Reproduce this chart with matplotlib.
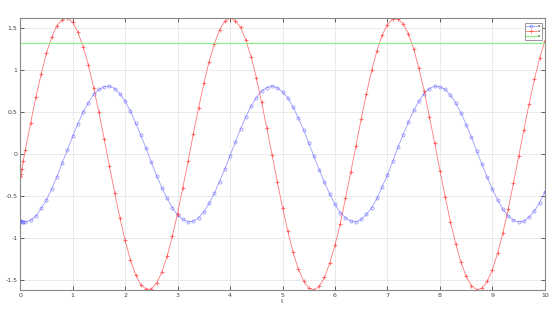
import numpy as np
import matplotlib
matplotlib.use("Agg")
import matplotlib.pyplot as plt

# time samples (extra small steps at the start, then 0.1 steps)
t = [0.0, 0.003, 0.01, 0.03, 0.06] + [round(0.1 * k, 1) for k in range(1, 101)]

x = [-0.80, -0.80, -0.80, -0.81, -0.81,
     -0.81, -0.79, -0.74, -0.65, -0.55, -0.42, -0.27, -0.11, 0.05, 0.21,
     0.36, 0.50, 0.61, 0.71, 0.77, 0.80, 0.81, 0.78, 0.72, 0.63,
     0.51, 0.37, 0.22, 0.07, -0.10, -0.26, -0.40, -0.53, -0.64, -0.73,
     -0.78, -0.81, -0.80, -0.76, -0.69, -0.59, -0.47, -0.33, -0.18, -0.02,
     0.14, 0.30, 0.44, 0.57, 0.67, 0.75, 0.79, 0.81, 0.79, 0.74,
     0.67, 0.56, 0.43, 0.29, 0.13, -0.03, -0.19, -0.34, -0.48, -0.60,
     -0.70, -0.76, -0.80, -0.81, -0.78, -0.72, -0.64, -0.53, -0.39, -0.25,
     -0.09, 0.08, 0.23, 0.38, 0.52, 0.63, 0.72, 0.78, 0.81, 0.80,
     0.77, 0.70, 0.61, 0.49, 0.35, 0.20, 0.04, -0.12, -0.28, -0.42,
     -0.55, -0.66, -0.74, -0.79, -0.81, -0.80, -0.75, -0.68, -0.58, -0.45]

v = [-0.27, -0.26, -0.24, -0.18, -0.08,
     0.05, 0.37, 0.68, 0.95, 1.20, 1.39, 1.53, 1.60, 1.62, 1.57,
     1.45, 1.28, 1.06, 0.79, 0.50, 0.18, -0.14, -0.46, -0.76, -1.03,
     -1.26, -1.44, -1.56, -1.61, -1.61, -1.54, -1.41, -1.22, -0.98, -0.71,
     -0.40, -0.09, 0.24, 0.55, 0.84, 1.10, 1.31, 1.48, 1.58, 1.62,
     1.59, 1.51, 1.36, 1.16, 0.91, 0.62, 0.31, -0.01, -0.33, -0.64,
     -0.92, -1.17, -1.37, -1.51, -1.60, -1.62, -1.58, -1.47, -1.30, -1.09,
     -0.83, -0.53, -0.22, 0.10, 0.42, 0.72, 1.00, 1.23, 1.42, 1.54,
     1.61, 1.61, 1.55, 1.43, 1.25, 1.02, 0.75, 0.44, 0.13, -0.20,
     -0.51, -0.81, -1.07, -1.29, -1.46, -1.57, -1.62, -1.60, -1.52, -1.38,
     -1.18, -0.94, -0.66, -0.35, -0.03, 0.29, 0.60, 0.89, 1.14, 1.35]

z_level = 1.32
z = [z_level] * len(t)

xticks = list(range(0, 11))
yticks = [-1.5, -1, -0.5, 0, 0.5, 1, 1.5]
ytick_labels = ["-1.5", "-1", "-0.5", "0", "0.5", "1", "1.5"]

fig = plt.figure(figsize=(5.6, 3.11), dpi=100)
ax = fig.add_axes([0.036, 0.068, 0.937, 0.874])

ax.plot(t, x, color="#5a5aff", alpha=0.6, lw=0.6, marker="o", ms=2.2,
        mfc="none", mew=0.6, label="x")
ax.plot(t, v, color="#ff3030", alpha=0.65, lw=0.6, marker="+", ms=3.0,
        mew=0.7, label="v")
ax.plot(t, z, color="#90ee90", lw=0.9, label="z")

ax.set_xlim(0, 10)
ax.set_ylim(-1.62, 1.62)
ax.set_xticks(xticks)
ax.set_xticklabels([str(k) for k in xticks])
ax.set_yticks(yticks)
ax.set_yticklabels(ytick_labels)
ax.tick_params(direction="in", length=3, width=0.6, labelsize=4.5,
               top=True, right=True, colors="#444444", pad=2)
ax.grid(True, color="#e6e6e6", lw=0.6)
for s in ax.spines.values():
    s.set_color("#888888")
    s.set_linewidth(0.8)
ax.set_xlabel("t", fontsize=4.5, labelpad=1, color="#444444")

leg = ax.legend(loc="upper right", fontsize=3, handlelength=2.6,
                borderpad=0.3, labelspacing=0.25, handletextpad=0.3,
                borderaxespad=0, fancybox=False, framealpha=1,
                edgecolor="#888888", bbox_to_anchor=(0.994, 0.982))
leg.get_frame().set_linewidth(0.6)

fig.savefig("out.png", dpi=100)
